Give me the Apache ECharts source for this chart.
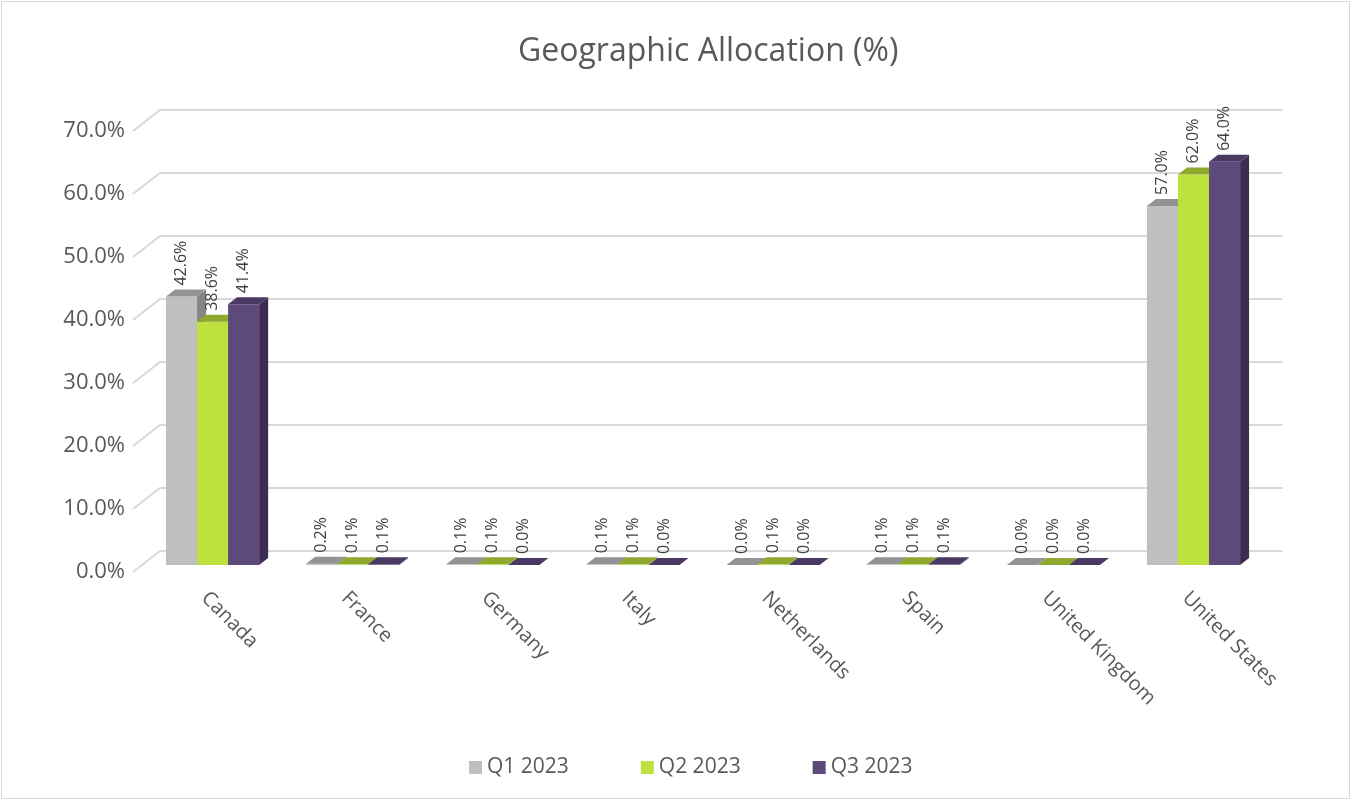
<!DOCTYPE html>
<html>
<head>
<meta charset="utf-8">
<script src="https://cdn.jsdelivr.net/npm/echarts@6/dist/echarts.min.js"></script>
<style>
html,body{margin:0;padding:0;background:#fff;}
#chart{width:1353px;height:801px;}
</style>
</head>
<body>
<div id="chart"></div>
<script>
const categories = ['Canada','France','Germany','Italy','Netherlands','Spain','United Kingdom','United States'];
const q1 = [42.6, 0.2, 0.1, 0.1, 0.0, 0.1, 0.0, 57.0];
const q2 = [38.6, 0.1, 0.1, 0.1, 0.1, 0.1, 0.0, 62.0];
const q3 = [41.4, 0.1, 0.0, 0.0, 0.0, 0.1, 0.0, 64.0];
const seriesNames = ['Q1 2023', 'Q2 2023', 'Q3 2023'];
const yTicks = [0, 10, 20, 30, 40, 50, 60, 70];

const FONT = '"Open Sans", "Noto Sans", sans-serif';
const palette = [
  {front:'#BFBFBF', top:'#939393', side:'#858585'},
  {front:'#BEE13F', top:'#8FA92F', side:'#7E962A'},
  {front:'#5E4A7A', top:'#4A3963', side:'#3D2D50'}
];
const DX = 9, DY = -7;

function barSeries(idx, values){
  return {
    type:'custom', name: seriesNames[idx], xAxisIndex:0, yAxisIndex:0,
    clip:false, z: 3 + idx,
    itemStyle:{color: palette[idx].front},
    data: values.map((v,i)=>[i, v]),
    renderItem: function(params, api){
      const c = api.value(0), v = api.value(1);
      const top = api.coord([c, v]);
      const base = api.coord([c, 0]);
      const band = api.size([1, 0])[0];
      const bw = band * 0.2215;
      const x0 = top[0] + (idx - 1.5) * bw;
      const x1 = x0 + bw;
      const yT = top[1], yB = base[1];
      const col = palette[idx];
      return {
        type:'group',
        children:[
          {type:'polygon', shape:{points:[[x1,yT],[x1+DX,yT+DY],[x1+DX,yB+DY],[x1,yB]]}, style:{fill:col.side}},
          {type:'rect', shape:{x:x0, y:yT, width:bw, height:Math.max(yB-yT,0)}, style:{fill:col.front}},
          {type:'polygon', shape:{points:[[x0,yT],[x1,yT],[x1+DX,yT+DY],[x0+DX,yT+DY]]}, style:{fill:col.top}},
          {type:'text', x: x0 + bw/2, y: yT + DY - 4, rotation: Math.PI/2,
            style:{text: v.toFixed(1) + '%', x:0, y:0, align:'left', verticalAlign:'middle',
              textAlign:'left', textVerticalAlign:'middle',
              fill:'#404040', fontSize:16, fontFamily: FONT}}
        ]
      };
    }
  };
}

const chart = echarts.init(document.getElementById('chart'), null, {renderer:'canvas'});
const option = {
  backgroundColor:'#ffffff',
  animation:false,
  title:{
    text:'Geographic Allocation (%)', left:513, top:31,
    textStyle:{color:'#595959', fontSize:32, fontWeight:'normal', fontFamily: FONT}
  },
  legend:{
    data: seriesNames, left:464, top:752, icon:'rect', itemWidth:13, itemHeight:13, itemGap:72,
    textStyle:{color:'#595959', fontSize:21, fontFamily: FONT}
  },
  graphic:[{type:'rect', shape:{x:1.5, y:1.5, width:1348, height:797}, style:{fill:'none', stroke:'#d9d9d9', lineWidth:1}, silent:true}],
  grid:[
    {left:142.5, right:89.4, top:124, bottom:236},
    {left:133, right:98.9, top:131, bottom:229},
    {left:134.5, right:97.4, top:124, bottom:236}
  ],
  xAxis:[
    {type:'category', gridIndex:0, data:categories, boundaryGap:true, show:false},
    {type:'category', gridIndex:1, data:categories, show:false},
    {type:'category', gridIndex:2, data:categories, boundaryGap:true,
      axisLine:{show:false}, axisTick:{show:false}, splitLine:{show:false},
      axisLabel:{rotate:-45, margin:30, color:'#595959', fontSize:20, fontFamily: FONT, interval:0}}
  ],
  yAxis:[
    {type:'value', gridIndex:0, min:0, max:70, interval:10, show:false, splitLine:{show:false}},
    {type:'value', gridIndex:1, min:0, max:70, interval:10,
      axisLine:{show:false}, axisTick:{show:false}, splitLine:{show:false},
      axisLabel:{margin:8, color:'#595959', fontSize:22, fontFamily: FONT,
        formatter: v => v.toFixed(1) + '%'}},
    {type:'value', gridIndex:2, min:0, max:70, interval:10, show:false, splitLine:{show:false}}
  ],
  series:[
    {
      type:'custom', name:'walls', xAxisIndex:0, yAxisIndex:0, silent:true, clip:false, z:1,
      data: yTicks.map(t=>[0, t]),
      renderItem: function(params, api){
        const p = api.coord([0, api.value(1)]);
        const cs = params.coordSys;
        const left = cs.x, right = cs.x + cs.width;
        return {type:'polyline', shape:{points:[[left-9.5, p[1]+7],[left+17.5, p[1]-14],[right+19, p[1]-14]]},
          style:{stroke:'#d9d9d9', lineWidth:2, fill:'none'}};
      }
    },
    barSeries(0, q1),
    barSeries(1, q2),
    barSeries(2, q3)
  ]
};
chart.setOption(option);
</script>
</body>
</html>
